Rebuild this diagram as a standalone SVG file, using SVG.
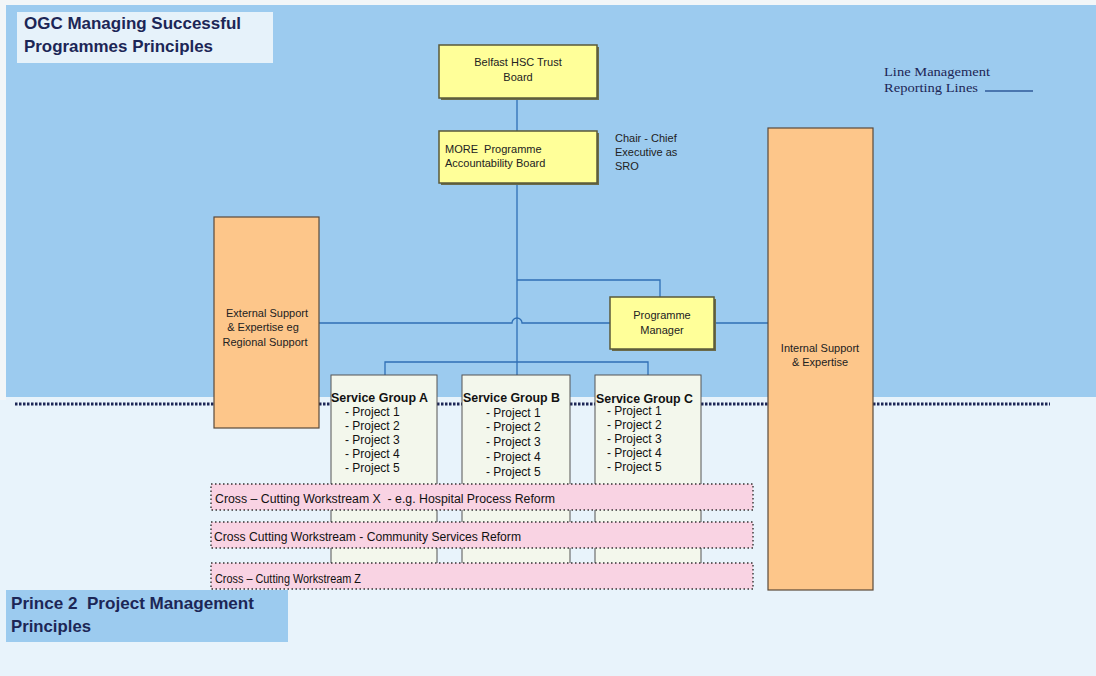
<svg xmlns="http://www.w3.org/2000/svg" width="1096" height="676" viewBox="0 0 1096 676">
<style>
.sans{font-family:"Liberation Sans",Arial,sans-serif;}
.head{font-family:"Liberation Sans",Arial,sans-serif;font-weight:bold;font-size:17px;fill:#1c2656;}
.t11{font-family:"Liberation Sans",Arial,sans-serif;font-size:11px;fill:#222;}
.t12{font-family:"Liberation Sans",Arial,sans-serif;font-size:12px;fill:#111;}
.yel{fill:#ffff99;stroke:#5a5a3a;stroke-width:1.5;}
.org{fill:#fdc68a;stroke:#5a4a3a;stroke-width:1.2;}
.sg{fill:#f3f7ec;stroke:#555;stroke-width:1;}
.band{fill:#f9d3e3;stroke:#333;stroke-width:1.4;stroke-dasharray:1.5 2.5;}
.conn{fill:none;stroke:#2f6fb5;stroke-width:1.3;}
.dots{fill:none;stroke:#1c2656;stroke-width:2.8;stroke-dasharray:2.5 1.5;}
</style>
<!-- backgrounds -->
<rect x="0" y="0" width="1096" height="676" fill="#e8f3fb"/>
<rect x="0" y="0" width="1096" height="5" fill="#f2f6f8"/>
<rect x="0" y="0" width="6" height="400" fill="#f2f6f8"/>
<rect x="6" y="5" width="1090" height="392" fill="#9ccbef"/>
<path class="dots" d="M15 404 H214 M319 404 H331 M437 404 H462 M570 404 H595 M701 404 H768 M873 404 H1050"/>

<g id="title-ogc">
<rect x="17" y="12" width="256" height="51" fill="#e6f2fa"/>
<text class="head" x="24" y="29" textLength="217" lengthAdjust="spacingAndGlyphs">OGC Managing Successful</text>
<text class="head" x="24" y="52" textLength="189" lengthAdjust="spacingAndGlyphs">Programmes Principles</text>
</g>

<g id="legend">
<text x="884" y="76" font-family="Liberation Serif,serif" font-size="13" fill="#1c2656" textLength="106" lengthAdjust="spacingAndGlyphs">Line Management</text>
<text x="884" y="92" font-family="Liberation Serif,serif" font-size="13" fill="#1c2656" textLength="94" lengthAdjust="spacingAndGlyphs">Reporting Lines</text>
<line x1="985" y1="91" x2="1033" y2="91" stroke="#2f5a9a" stroke-width="1.3"/>
</g>

<g id="connectors">
<path class="conn" d="M517 98 V131"/>
<path class="conn" d="M517 183 V375"/>
<path class="conn" d="M517 280 H660 V297"/>
<path class="conn" d="M319 323 H512 A5 5 0 0 1 522 323 H610"/>
<path class="conn" d="M714 323 H768"/>
<path class="conn" d="M385 375 V362 H648 V375"/>
</g>

<g id="belfast-board">
<rect x="441" y="47" width="158" height="53" fill="#6b6b4a"/>
<rect class="yel" x="439" y="45" width="158" height="53"/>
<text class="t11" x="518" y="66" text-anchor="middle">Belfast HSC Trust</text>
<text class="t11" x="518" y="81" text-anchor="middle">Board</text>
</g>

<g id="more-board">
<rect x="441" y="133" width="158" height="52" fill="#6b6b4a"/>
<rect class="yel" x="439" y="131" width="158" height="52"/>
<text class="t11" x="445" y="153">MORE&#160; Programme</text>
<text class="t11" x="445" y="167">Accountability Board</text>
</g>

<g id="sro-note">
<text class="t11" x="615" y="142">Chair - Chief</text>
<text class="t11" x="615" y="156">Executive as</text>
<text class="t11" x="615" y="170">SRO</text>
</g>

<g id="programme-manager">
<rect x="612" y="299" width="104" height="52" fill="#6b6b4a"/>
<rect class="yel" x="610" y="297" width="104" height="52"/>
<text class="t11" x="662" y="319" text-anchor="middle">Programme</text>
<text class="t11" x="662" y="334" text-anchor="middle">Manager</text>
</g>

<g id="external-support">
<rect class="org" x="214" y="217" width="105" height="211"/>
<text class="t11" x="267" y="317" text-anchor="middle">External Support</text>
<text class="t11" x="263" y="331" text-anchor="middle">&amp; Expertise eg</text>
<text class="t11" x="265" y="346" text-anchor="middle">Regional Support</text>
</g>

<g id="internal-support">
<rect class="org" x="768" y="128" width="105" height="462"/>
<text class="t11" x="820" y="352" text-anchor="middle">Internal Support</text>
<text class="t11" x="820" y="366" text-anchor="middle">&amp; Expertise</text>
</g>

<g id="service-group-a">
<rect class="sg" x="331" y="375" width="106" height="212"/>
<text class="t12" x="331" y="402" font-weight="bold" textLength="97" lengthAdjust="spacingAndGlyphs">Service Group A</text>
<text class="t12" x="345" y="416">- Project 1</text>
<text class="t12" x="345" y="430">- Project 2</text>
<text class="t12" x="345" y="444">- Project 3</text>
<text class="t12" x="345" y="458">- Project 4</text>
<text class="t12" x="345" y="472">- Project 5</text>
</g>

<g id="service-group-b">
<rect class="sg" x="462" y="375" width="108" height="212"/>
<text class="t12" x="463" y="402" font-weight="bold" textLength="97" lengthAdjust="spacingAndGlyphs">Service Group B</text>
<text class="t12" x="486" y="417">- Project 1</text>
<text class="t12" x="486" y="431">- Project 2</text>
<text class="t12" x="486" y="446">- Project 3</text>
<text class="t12" x="486" y="461">- Project 4</text>
<text class="t12" x="486" y="476">- Project 5</text>
</g>

<g id="service-group-c">
<rect class="sg" x="595" y="375" width="106" height="212"/>
<text class="t12" x="596" y="403" font-weight="bold" textLength="97" lengthAdjust="spacingAndGlyphs">Service Group C</text>
<text class="t12" x="607" y="415">- Project 1</text>
<text class="t12" x="607" y="429">- Project 2</text>
<text class="t12" x="607" y="443">- Project 3</text>
<text class="t12" x="607" y="457">- Project 4</text>
<text class="t12" x="607" y="471">- Project 5</text>
</g>

<g id="workstream-x">
<rect class="band" x="211" y="484" width="542" height="26"/>
<text class="t12" x="215" y="503" textLength="340" lengthAdjust="spacingAndGlyphs">Cross – Cutting Workstream X&#160; - e.g. Hospital Process Reform</text>
</g>

<g id="workstream-community">
<rect class="band" x="211" y="522" width="542" height="26"/>
<text class="t12" x="214" y="541" textLength="307" lengthAdjust="spacingAndGlyphs">Cross Cutting Workstream - Community Services Reform</text>
</g>

<g id="workstream-z">
<rect class="band" x="211" y="563" width="542" height="26"/>
<text class="t12" x="215" y="583" textLength="146" lengthAdjust="spacingAndGlyphs">Cross – Cutting Workstream Z</text>
</g>

<g id="title-prince2">
<rect x="6" y="590" width="282" height="52" fill="#9ccbef"/>
<text class="head" x="11" y="609" textLength="243" lengthAdjust="spacingAndGlyphs">Prince 2&#160; Project Management</text>
<text class="head" x="11" y="632" textLength="80" lengthAdjust="spacingAndGlyphs">Principles</text>
</g>
</svg>
